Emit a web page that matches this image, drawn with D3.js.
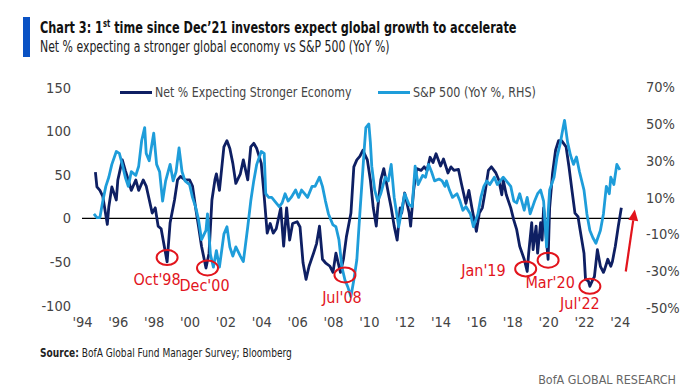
<!DOCTYPE html>
<html>
<head>
<meta charset="utf-8">
<script src="https://cdn.jsdelivr.net/npm/d3@7"></script>
<style>
body { margin: 0; background: #fff; }
svg text { font-family: "Liberation Sans Narrow", "DejaVu Sans Condensed", Roboto, sans-serif; }
</style>
</head>
<body>
<svg class="chart" width="680" height="388"></svg>
<script>

//
// data
//

var netMonths = ["1994-10","1994-11","1995-01","1995-03","1995-06","1995-07","1995-09","1995-12",
    "1996-01","1996-04","1996-06","1996-08","1996-10","1997-01","1997-03","1997-06","1997-08","1997-12",
    "1998-02","1998-04","1998-06","1998-10","1998-12","1999-03","1999-05","1999-07","1999-10",
    "2000-01","2000-03","2000-05","2000-07","2000-09","2000-12","2001-02","2001-04","2001-06","2001-07",
    "2001-09","2001-12","2002-02","2002-04","2002-06","2002-08","2002-11","2003-01","2003-04","2003-06",
    "2003-08","2003-10","2004-01","2004-03","2004-05","2004-07","2004-09","2004-11","2005-02","2005-04",
    "2005-06","2005-08","2005-10","2006-01","2006-03","2006-05","2006-07","2006-09","2006-12","2007-02",
    "2007-04","2007-06","2007-08","2007-11","2008-01","2008-03","2008-06","2008-08","2008-10","2009-01",
    "2009-03","2009-05","2009-07","2009-09","2009-12","2010-02","2010-04","2010-06","2010-07","2010-09",
    "2010-11","2011-02","2011-04","2011-06","2011-08","2011-10","2011-11","2012-01","2012-04","2012-05",
    "2012-07","2012-09","2012-12","2013-02","2013-04","2013-06","2013-08","2013-10","2014-01","2014-03",
    "2014-06","2014-08","2014-10","2015-01","2015-03","2015-06","2015-08","2015-10","2016-01","2016-03",
    "2016-05","2016-07","2016-09","2016-11","2017-02","2017-04","2017-06","2017-07","2017-09","2017-12",
    "2018-02","2018-04","2018-06","2018-09","2018-11","2018-12","2019-02","2019-03","2019-05","2019-06",
    "2019-08","2019-09","2019-10","2020-01","2020-02","2020-04","2020-06","2020-08","2020-10","2021-01",
    "2021-03","2021-05","2021-07","2021-09","2021-10","2022-01","2022-02","2022-04","2022-05","2022-07",
    "2022-08","2022-10","2022-12","2023-02","2023-03","2023-05","2023-07","2023-08","2023-10","2023-12",
    "2024-02"];
var netValues = [53,36,32,25,-7,13,36,21,
    44,67,55,44,32,44,32,44,37,6,
    12,-9,-12,-50,-5,21,44,48,44,
    44,37,13,-9,-32,-57,-40,21,44,51,
    32,82,89,80,63,40,51,67,44,82,
    86,80,63,25,-17,-6,-17,-12,12,-32,
    12,-25,-6,-4,-10,-51,-70,-55,-40,-29,
    -9,-47,-51,-55,-62,-40,-62,-47,-21,6,
    59,67,71,78,67,44,12,-9,12,44,
    57,29,12,-9,-25,12,6,29,6,-9,
    32,57,55,59,55,70,64,74,60,68,
    52,59,55,56,40,17,32,12,-15,6,
    12,32,55,59,52,44,27,44,27,12,
    -2,-13,-32,-47,-61,-40,-5,-36,-9,-40,
    -5,-25,12,-47,12,52,78,89,89,82,
    59,32,6,2,-9,-40,-70,-72,-78,-70,
    -67,-36,-55,-62,-58,-47,-55,-50,-32,-9,
    12];

var spxMonths = ["1994-09","1994-11","1995-01","1995-03","1995-05","1995-07","1995-09","1995-12",
    "1996-02","1996-04","1996-06","1996-08","1996-10","1997-01","1997-03","1997-05","1997-07","1997-08",
    "1997-10","1998-01","1998-03","1998-05","1998-07","1998-09","1998-12","1999-02","1999-04","1999-06",
    "1999-08","1999-10","2000-01","2000-03","2000-05","2000-07","2000-09","2000-12","2001-01","2001-03",
    "2001-05","2001-07","2001-09","2001-12","2002-02","2002-04","2002-06","2002-08","2002-11","2003-01",
    "2003-04","2003-06","2003-08","2003-10","2004-01","2004-03","2004-04","2004-06","2004-08","2004-10",
    "2005-01","2005-03","2005-05","2005-07","2005-09","2005-12","2006-02","2006-04","2006-06","2006-08",
    "2006-11","2007-01","2007-04","2007-06","2007-08","2007-10","2008-01","2008-03","2008-05","2008-07",
    "2008-09","2008-11","2009-01","2009-03","2009-05","2009-07","2009-09","2009-10","2009-11","2010-01",
    "2010-02","2010-03","2010-05","2010-07","2010-09","2010-12","2011-02","2011-04","2011-06","2011-09",
    "2011-11","2012-01","2012-04","2012-06","2012-08","2012-10","2013-01","2013-03","2013-05","2013-07",
    "2013-09","2013-12","2014-02","2014-04","2014-05","2014-07","2014-09","2014-12","2015-02","2015-04",
    "2015-06","2015-09","2015-11","2016-02","2016-04","2016-06","2016-08","2016-10","2017-01","2017-03",
    "2017-05","2017-07","2017-09","2017-12","2018-02","2018-04","2018-06","2018-09","2018-11","2019-01",
    "2019-04","2019-06","2019-08","2019-10","2019-12","2020-01","2020-02","2020-05","2020-07","2020-09",
    "2020-11","2020-12","2021-02","2021-04","2021-06","2021-08","2021-10","2022-01","2022-03","2022-05",
    "2022-07","2022-09","2022-12","2023-02","2023-04","2023-06","2023-07","2023-09","2023-11","2024-01"];
var spxValues = [1,-1,-1,8,16,21,28,35,
    34,28,21,16,24,22,27,41,48,34,
    30,45,28,24,8,19,28,19,24,37,
    24,19,17,10,5,-2,-13,-8,1,-21,
    -28,-19,-28,-10,-6,-17,-22,-17,-22,-25,
    -6,8,19,28,35,34,12,10,10,8,
    5,7,12,8,10,14,10,14,12,10,
    16,16,21,16,8,1,-5,-6,-13,-28,
    -35,-39,-44,-35,-24,1,25,37,48,50,
    40,27,14,8,12,21,19,28,10,-6,
    3,12,6,5,27,17,22,21,28,24,
    19,20,19,16,19,14,10,12,8,3,
    5,1,-6,1,10,16,19,17,21,17,
    19,21,19,16,8,7,12,3,10,1,
    8,12,14,8,-17,1,14,21,32,39,
    48,52,40,33,28,32,24,14,1,-8,
    -12,-15,-8,1,16,12,21,17,28,25];

var yearTicks = ["1994","1996","1998","2000","2002","2004","2006","2008","2010","2012",
    "2014","2016","2018","2020","2022","2024"];
var leftTicks = [-100, -50, 0, 50, 100, 150];
var rightTicks = [-50, -30, -10, 10, 30, 50, 70];

var annLabels = ["Oct'98", "Dec'00", "Jul'08", "Jan'19", "Mar'20", "Jul'22"];
var annMonths = ["1998-10", "2001-01", "2008-09", "2018-10", "2020-01", "2022-05"];
var annValues = [-45, -57, -65, -58, -48, -78];

var arrowMonths = ["2024-05", "2024-11"];
var arrowValues = [-61, 10];

//
// scene
//

var navy = "#0e1f63",
    sky = "#1e9dda",
    red = "#e2141c",
    ink = "#444";

var parse = d3.timeParse("%Y-%m");

var svg = d3.select(".chart");

var x = d3.scaleTime()
    .domain([parse("1994-01"), parse("2024-11")])
    .range([82, 634.8]);
var yL = d3.scaleLinear().domain([-100, 150]).range([305.5, 87.5]);
var yR = d3.scaleLinear().domain([-50, 70]).range([307.5, 87.3]);

// squeeze a text to a given width (the reference uses a condensed face)
function fit(sel, w, anchor) {
    var b = sel.node().getBBox();
    var s = w / b.width;
    var px = anchor === "end" ? b.x + b.width : anchor === "middle" ? b.x + b.width / 2 : b.x;
    sel.attr("transform", "translate(" + px * (1 - s) + ",0) scale(" + s + ",1)");
}

// plain hyphen for negatives, as in the original
function num(d) { return String(d); }

//
// title block
//

svg.append("rect")
    .attr("x", 23).attr("y", 17)
    .attr("width", 7).attr("height", 40)
    .attr("fill", "#0a52c4");

var title = svg.append("text")
    .attr("x", 40).attr("y", 33)
    .attr("font-size", 16.5).attr("font-weight", "bold")
    .attr("fill", "#111");
title.append("tspan").text("Chart 3: 1");
title.append("tspan").attr("font-size", 10).attr("dy", -6).text("st");
title.append("tspan").attr("dy", 6).text(" time since Dec\u201921 investors expect global growth to accelerate");
fit(title, 477, "start");

var subtitle = svg.append("text")
    .attr("x", 40).attr("y", 52.5)
    .attr("font-size", 15.5)
    .attr("fill", "#222")
    .text("Net % expecting a stronger global economy vs S&P 500 (YoY %)");
fit(subtitle, 350, "start");

//
// axes
//

var xAxis = svg.append("g")
    .attr("transform", "translate(0,314)")
    .call(d3.axisBottom(x)
        .tickValues(yearTicks.map(function (d) { return d3.timeParse("%Y")(d); }))
        .tickSize(0)
        .tickFormat(d3.timeFormat("'%y")));

var leftAxis = svg.append("g")
    .attr("transform", "translate(71,0)")
    .call(d3.axisLeft(yL).tickValues(leftTicks).tickSize(0).tickPadding(0).tickFormat(num));

var rightAxis = svg.append("g")
    .attr("transform", "translate(646,0)")
    .call(d3.axisRight(yR).tickValues(rightTicks).tickSize(0).tickPadding(0)
        .tickFormat(function (d) { return num(d) + "%"; }));

svg.selectAll(".domain").remove();
svg.selectAll(".tick text")
    .attr("font-family", null)
    .attr("font-size", 14.5)
    .attr("fill", ink);

// zero line
svg.append("line")
    .attr("x1", x.range()[0]).attr("x2", x.range()[1])
    .attr("y1", yL(0)).attr("y2", yL(0))
    .attr("stroke", "#000").attr("stroke-width", 1.3);

//
// series
//

var netData = netMonths.map(function (m, i) { return { date: parse(m), value: netValues[i] }; });
var spxData = spxMonths.map(function (m, i) { return { date: parse(m), value: spxValues[i] }; });

svg.append("path")
    .datum(netData)
    .attr("fill", "none")
    .attr("stroke", navy)
    .attr("stroke-width", 2.8)
    .attr("stroke-linejoin", "round")
    .attr("d", d3.line()
        .x(function (d) { return x(d.date); })
        .y(function (d) { return yL(d.value); }));

svg.append("path")
    .datum(spxData)
    .attr("fill", "none")
    .attr("stroke", sky)
    .attr("stroke-width", 2.8)
    .attr("stroke-linejoin", "round")
    .attr("d", d3.line()
        .x(function (d) { return x(d.date); })
        .y(function (d) { return yR(d.value); }));

//
// legend
//

var legend = [
    { color: navy, text: "Net % Expecting Stronger Economy", x: 120, w: 197 },
    { color: sky, text: "S&P 500 (YoY %, RHS)", x: 378, w: 123 }
];
legend.forEach(function (l) {
    svg.append("line")
        .attr("x1", l.x).attr("x2", l.x + 32)
        .attr("y1", 92.5).attr("y2", 92.5)
        .attr("stroke", l.color).attr("stroke-width", 3);
    var t = svg.append("text")
        .attr("x", l.x + 35).attr("y", 97.5)
        .attr("font-size", 14.5)
        .attr("fill", ink)
        .text(l.text);
    fit(t, l.w, "start");
});

//
// annotations
//

// label placement relative to each circled low
var annLayout = [
    { dx: -10, dy: 27, anchor: "middle" },
    { dx: -3, dy: 23, anchor: "middle" },
    { dx: -3, dy: 28, anchor: "middle" },
    { dx: -20, dy: 7, anchor: "end" },
    { dx: 2, dy: 28, anchor: "middle" },
    { dx: -10, dy: 23, anchor: "middle" }
];

var ann = svg.append("g").attr("class", "annotations");
annLabels.forEach(function (label, i) {
    var cx = x(parse(annMonths[i])), cy = yL(annValues[i]);
    ann.append("ellipse")
        .attr("cx", cx).attr("cy", cy)
        .attr("rx", 10.5).attr("ry", 7.5)
        .attr("fill", "none")
        .attr("stroke", red).attr("stroke-width", 2);
    ann.append("text")
        .attr("x", cx + annLayout[i].dx).attr("y", cy + annLayout[i].dy)
        .attr("text-anchor", annLayout[i].anchor)
        .attr("font-size", 16)
        .attr("fill", red)
        .text(label);
});

// rising arrow
var ax0 = x(parse(arrowMonths[0])), ay0 = yL(arrowValues[0]),
    ax1 = x(parse(arrowMonths[1])), ay1 = yL(arrowValues[1]);
var ang = Math.atan2(ay1 - ay0, ax1 - ax0);
var headLen = 11, headW = 5;
var bx = ax1 - headLen * Math.cos(ang), by = ay1 - headLen * Math.sin(ang);
svg.append("line")
    .attr("x1", ax0).attr("y1", ay0)
    .attr("x2", bx).attr("y2", by)
    .attr("stroke", red).attr("stroke-width", 2.2);
svg.append("path")
    .attr("d", "M" + ax1 + "," + ay1 +
        "L" + (bx + headW * Math.sin(ang)) + "," + (by - headW * Math.cos(ang)) +
        "L" + (bx - headW * Math.sin(ang)) + "," + (by + headW * Math.cos(ang)) + "Z")
    .attr("fill", red);

//
// footer
//

var source = svg.append("text")
    .attr("x", 40).attr("y", 357)
    .attr("font-size", 12)
    .attr("fill", "#222");
source.append("tspan").attr("font-weight", "bold").text("Source:");
source.append("tspan").text(" BofA Global Fund Manager Survey; Bloomberg");
fit(source, 252, "start");

var brand = svg.append("text")
    .attr("x", 676).attr("y", 384)
    .attr("text-anchor", "end")
    .attr("font-size", 12)
    .attr("fill", "#666")
    .text("BofA GLOBAL RESEARCH");
fit(brand, 138, "end");

</script>
</body>
</html>
